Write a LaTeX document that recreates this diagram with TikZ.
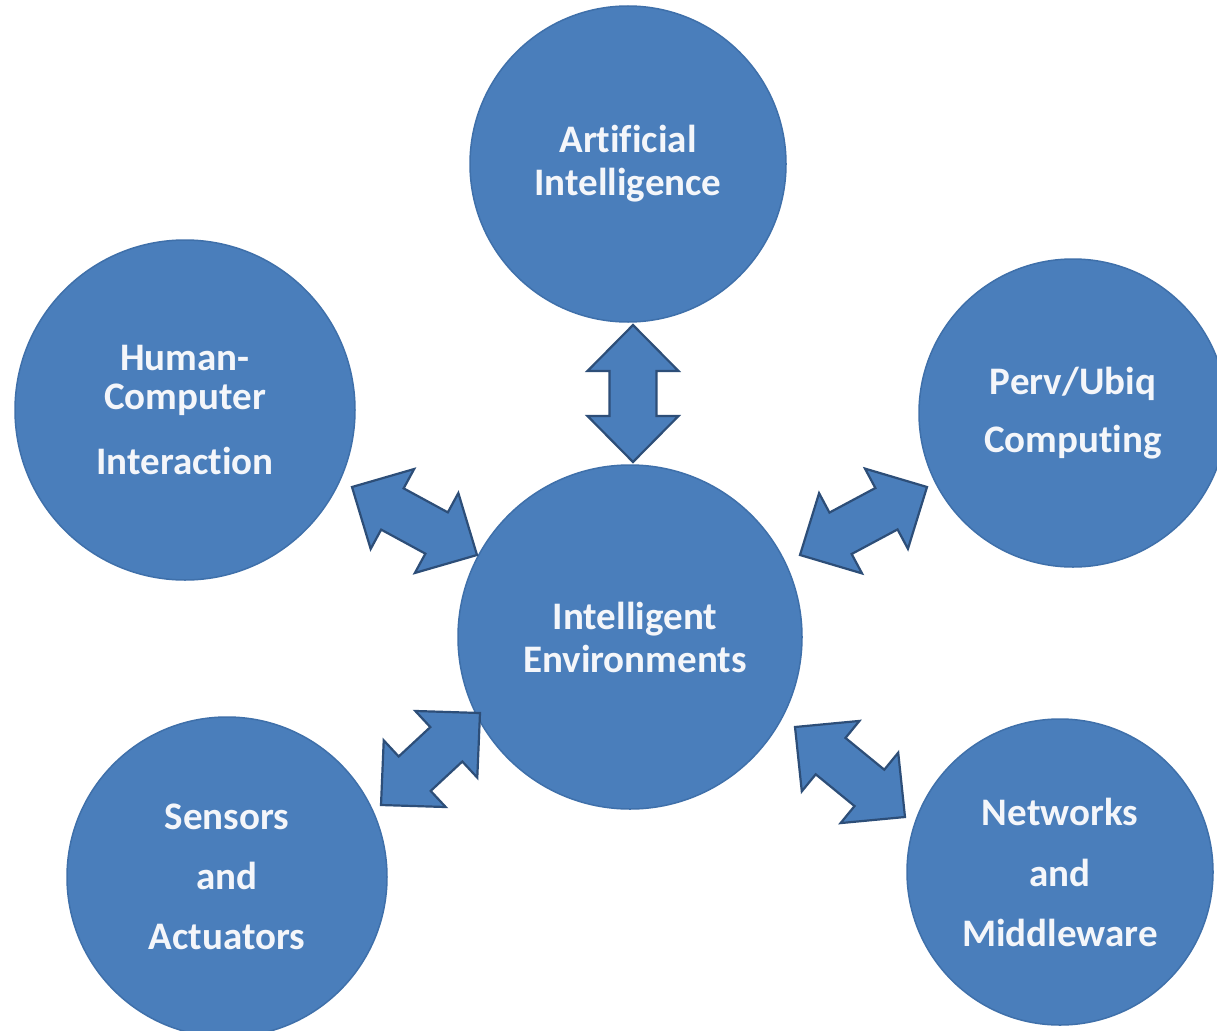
\documentclass[tikz,border=0pt]{standalone}
\usepackage{fontspec}
\setmainfont{Carlito}[Ligatures={NoCommon}]
\usetikzlibrary{calc}
\definecolor{bfill}{HTML}{4A7EBB}
\definecolor{bline}{HTML}{3F70AA}
\definecolor{aline}{HTML}{2D4E78}
\definecolor{tcol}{HTML}{F4F6FA}
\tikzset{
  bubble/.style={circle, fill=bfill, draw=bline, line width=1.5pt, inner sep=0pt,
    text=tcol, align=center, font=\fontsize{39}{43}\selectfont\bfseries},
  arrowshape/.style={fill=bfill, draw=aline, line width=2.2pt, line join=miter},
}
\newcommand\dblarr[2]{%
  \coordinate (h1) at ($(#1)!46pt!(#2)$);
  \coordinate (h2) at ($(#2)!46pt!(#1)$);
  \draw[arrowshape] (#1) -- ($(h1)!45.5pt!90:(#2)$) -- ($(h1)!23.5pt!90:(#2)$)
    -- ($(h2)!23.5pt!-90:(#1)$) -- ($(h2)!45.5pt!-90:(#1)$) -- (#2)
    -- ($(h2)!45.5pt!90:(#1)$) -- ($(h2)!23.5pt!90:(#1)$)
    -- ($(h1)!23.5pt!-90:(#2)$) -- ($(h1)!45.5pt!-90:(#2)$) -- cycle;
}
\begin{document}
\begin{tikzpicture}[x=1pt, y=-1pt]
\useasboundingbox (0,0) rectangle (1217,1030);
\fill[white] (0,0) rectangle (1217,1030);
% circles
\node[bubble, minimum size=316pt] (ai) at (628,164) {Artificial\\Intelligence};
\node[bubble, minimum size=340pt] (hci) at (185,410) {Human-\\[-4pt]Computer\\[22pt]Interaction};
\node[bubble, minimum size=308pt] (pu) at (1073,413) {Perv/Ubiq\\[15pt]Computing};
\node[bubble, minimum size=344pt] (ie) at (630,637) {\hspace*{10pt}Intelligent\\\hspace*{10pt}Environments};
\node[bubble, minimum size=320pt] (sa) at (227,877) {Sensors\\[17pt]and\\[17pt]Actuators};
\node[bubble, minimum size=306pt] (nm) at (1060,872) {Networks\\[18pt]and\\[17pt]Middleware};
% arrow end points
\coordinate (aiA) at (633,325);
\coordinate (aiB) at (633,462);
\coordinate (hcA) at (352,487);
\coordinate (hcB) at (477,555);
\coordinate (puA) at (927,487);
\coordinate (puB) at (800,555);
\coordinate (saA) at (381,805);
\coordinate (saB) at (480,713);
\coordinate (nmA) at (905,817);
\coordinate (nmB) at (795,727);
\dblarr{aiA}{aiB}
\dblarr{hcA}{hcB}
\dblarr{puA}{puB}
\dblarr{saA}{saB}
\dblarr{nmA}{nmB}
\end{tikzpicture}
\end{document}
